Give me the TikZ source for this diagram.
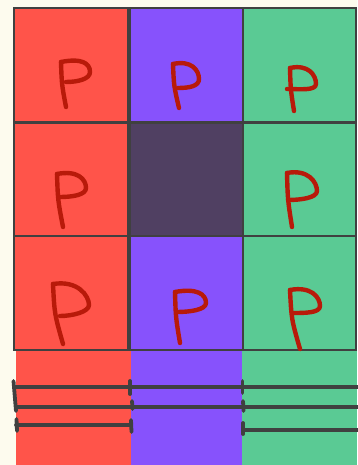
\documentclass[tikz,border=0pt]{standalone}
\definecolor{bgc}{HTML}{FDFBEE}
\definecolor{cred}{HTML}{FF544A}
\definecolor{cpur}{HTML}{8752FC}
\definecolor{cgrn}{HTML}{5ACA94}
\definecolor{cdark}{HTML}{504062}
\definecolor{lnc}{HTML}{404040}
\definecolor{penc}{HTML}{B81A0A}
\tikzset{
  cell/.style={draw=lnc, line width=1.7pt, minimum width=114pt, minimum height=114pt, inner sep=0pt, outer sep=0pt},
  strip/.style={inner sep=0pt, outer sep=0pt, minimum height=115pt},
  pen/.style={draw=penc, line width=4.4pt, line cap=round, line join=round},
  bar/.style={draw=lnc, line width=3.8pt, line cap=round}
}
\newcommand\drawP[8]{%
  \draw[pen] (#1,#2) .. controls ({#1+0.15*(#3-#1)},{#2+0.5*(#4-#2)}) .. (#3,#4);
  \draw[pen] (#1,#2) .. controls ({#1+0.7*(#5-#1)},{#2-4}) and (#5,{#6-9}) .. (#5,#6)
     .. controls (#5,{#6+7}) and ({#7+12},#8) .. (#7,#8);}
\begin{document}
\begin{tikzpicture}[x=1pt,y=-1pt]
\fill[bgc] (0,0) rectangle (357,465);
\useasboundingbox (0,0) rectangle (357,465);
% bottom strips
\node[strip, fill=cred, minimum width=115pt, anchor=north west] (s1) at (16,350) {};
\node[strip, fill=cpur, minimum width=111pt, anchor=north west] (s2) at (131,350) {};
\node[strip, fill=cgrn, minimum width=115pt, anchor=north west] (s3) at (242,350) {};
% grid
\node[cell, fill=cred, anchor=north west] (c11) at (14,8) {};
\node[cell, fill=cpur, anchor=north west] (c12) at (130,8) {};
\node[cell, fill=cgrn, anchor=north west, minimum width=113pt] (c13) at (243,8) {};
\node[cell, fill=cred, anchor=north west] (c21) at (14,123) {};
\node[cell, fill=cdark, anchor=north west] (c22) at (130,123) {};
\node[cell, fill=cgrn, anchor=north west, minimum width=113pt] (c23) at (243,123) {};
\node[cell, fill=cred, anchor=north west] (c31) at (14,236) {};
\node[cell, fill=cpur, anchor=north west] (c32) at (130,236) {};
\node[cell, fill=cgrn, anchor=north west, minimum width=113pt] (c33) at (243,236) {};
% letters P
\drawP{61}{62}{66}{107}{90}{72}{66}{82}
\drawP{173}{64}{179}{108}{199}{79}{178}{88}
\drawP{290}{68}{294}{111}{316}{84}{287}{89}
\drawP{57}{174}{63}{227}{86}{188}{60}{197}
\drawP{287}{173}{292}{227}{317}{191}{288}{200}
\drawP{53}{284}{63}{344}{89}{305}{60}{316}
\drawP{175}{292}{180}{343}{206}{303}{177}{312}
\drawP{290}{290}{300}{349}{320}{306}{293}{313}
% bars
\coordinate (a0) at (14,387); \coordinate (a1) at (358,387);
\coordinate (b0) at (16,407); \coordinate (b1) at (358,407);
\coordinate (d0) at (16,425); \coordinate (d1) at (131,425);
\coordinate (e0) at (243,430); \coordinate (e1) at (358,430);
\draw[bar] (a0) -- (a1);
\draw[bar] (b0) -- (b1);
\draw[bar] (d0) -- (d1);
\draw[bar] (e0) -- (e1);
% ticks
\draw[bar] (13.5,381) -- (16,411);
\draw[bar] (16.5,419) -- (17,431);
\draw[bar] (130,381) -- (130,394);
\draw[bar] (132,401) -- (132.5,409);
\draw[bar] (131,420) -- (131.5,432);
\draw[bar] (242.5,381) -- (242.5,393);
\draw[bar] (243,401) -- (243.5,411);
\draw[bar] (243,423) -- (243,434);
\end{tikzpicture}
\end{document}
